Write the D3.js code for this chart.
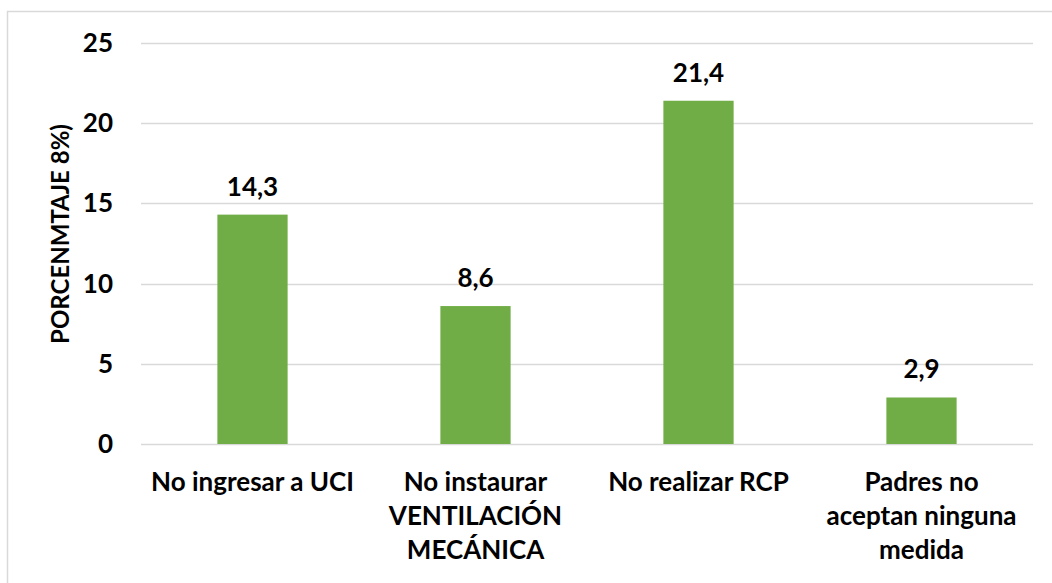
<!DOCTYPE html>
<html>
<head>
<meta charset="utf-8">
<script src="https://cdn.jsdelivr.net/npm/d3@7"></script>
<style>
  body { margin: 0; background: #fff; }
  text { font-family: Lato, "Open Sans", sans-serif; font-weight: bold; fill: #000; }
</style>
</head>
<body>
<svg id="chart" width="1052" height="583"></svg>
<script>
const categories = [
  ['No ingresar a UCI'],
  ['No instaurar', 'VENTILACIÓN', 'MECÁNICA'],
  ['No realizar RCP'],
  ['Padres no', 'aceptan ninguna', 'medida']
]
const values = [14.3, 8.6, 21.4, 2.9]
const valueLabels = ['14,3', '8,6', '21,4', '2,9']
const yTicks = [0, 5, 10, 15, 20, 25]
const yTitle = 'PORCENMTAJE 8%)'

const svg = d3.select('#chart')
const margin = { top: 43, right: 19, bottom: 139, left: 141 }
const width = 1052, height = 583

// outer frame
svg.append('rect')
  .attr('x', 7.5).attr('y', 11.5)
  .attr('width', 1060).attr('height', 600)
  .attr('fill', 'none').attr('stroke', '#d9d9d9').attr('stroke-width', 1.5)

const x = d3.scaleBand()
  .domain(d3.range(values.length))
  .range([margin.left, width - margin.right])
  .paddingInner(0.685).paddingOuter(0.3425)

const y = d3.scaleLinear()
  .domain([0, 25])
  .range([height - margin.bottom, margin.top])

// gridlines
svg.append('g')
  .selectAll('line')
  .data(yTicks)
  .join('line')
  .attr('x1', margin.left).attr('x2', width - margin.right)
  .attr('y1', d => Math.round(y(d)) + 0.5).attr('y2', d => Math.round(y(d)) + 0.5)
  .attr('stroke', '#d9d9d9').attr('stroke-width', 1.5)

// y tick labels
svg.append('g')
  .selectAll('text')
  .data(yTicks)
  .join('text')
  .attr('x', 113)
  .attr('y', d => y(d) + 9)
  .attr('text-anchor', 'end')
  .style('font-size', '26px')
  .text(d => d)

// bars
svg.append('g')
  .selectAll('rect')
  .data(values)
  .join('rect')
  .attr('x', (d, i) => x(i))
  .attr('y', d => y(d))
  .attr('width', x.bandwidth())
  .attr('height', d => y(0) - y(d))
  .attr('fill', '#70ad47')

// value labels
svg.append('g')
  .selectAll('text')
  .data(values)
  .join('text')
  .attr('x', (d, i) => x(i) + x.bandwidth() / 2)
  .attr('y', d => y(d) - 19)
  .attr('text-anchor', 'middle')
  .style('font-size', '26px')
  .text((d, i) => valueLabels[i])

// category labels
const cat = svg.append('g')
  .selectAll('text')
  .data(categories)
  .join('text')
  .attr('text-anchor', 'middle')
  .style('font-size', '26px')
cat.selectAll('tspan')
  .data((d, i) => d.map(t => ({ t, i })))
  .join('tspan')
  .attr('x', d => x(d.i) + x.bandwidth() / 2)
  .attr('y', (d, j) => 491 + j * 34)
  .text(d => d.t)

// y axis title
svg.append('text')
  .attr('transform', 'translate(69,234) rotate(-90)')
  .attr('text-anchor', 'middle')
  .style('font-size', '24px')
  .text(yTitle)
</script>
</body>
</html>
